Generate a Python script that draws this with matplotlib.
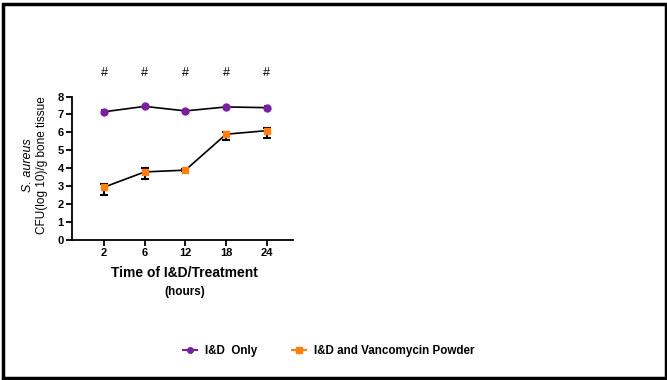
import numpy as np
import matplotlib.pyplot as plt
import matplotlib.patches as patches
from matplotlib.lines import Line2D
import matplotlib

matplotlib.rcParams['font.family'] = ['Liberation Sans', 'DejaVu Sans']

# data
hours = ['2', '6', '12', '18', '24']
id_only = [7.15, 7.45, 7.2, 7.42, 7.38]
id_only_err = [0.1, 0.05, 0.05, 0.05, 0.08]
id_vanco = [2.95, 3.8, 3.9, 5.9, 6.1]
id_vanco_lo = [0.45, 0.4, 0.05, 0.3, 0.4]
id_vanco_hi = [0.15, 0.2, 0.05, 0.15, 0.15]
sig = ['#', '#', '#', '#', '#']

purple = '#7b1fa2'
orange = '#ff7f0e'

fig = plt.figure(figsize=(6.67, 3.8), dpi=100)
ax = fig.add_axes([0.108, 0.368, 0.331, 0.378])
x = np.arange(len(hours))

ax.errorbar(x, id_vanco, yerr=[id_vanco_lo, id_vanco_hi], color='black', ecolor='black',
            elinewidth=1.5, capsize=3, capthick=1.5, lw=1.2, marker='s', ms=5,
            mfc=orange, mec=orange, zorder=3)
ax.errorbar(x, id_only, yerr=id_only_err, color='black', ecolor='black',
            elinewidth=1.2, capsize=2, capthick=1.2, lw=1.2, marker='o', ms=5,
            mfc=purple, mec=purple, zorder=3)

for i, s in enumerate(sig):
    ax.text(x[i], 9.3, s, ha='center', va='center', fontsize=9, clip_on=False)

ax.set_xlim(-0.785, 4.64)
ax.set_ylim(0, 8)
ax.set_xticks(x)
ax.set_xticklabels(hours)
ax.set_yticks(range(0, 9))
ax.spines['top'].set_visible(False)
ax.spines['right'].set_visible(False)
ax.spines['left'].set_linewidth(1.3)
ax.spines['bottom'].set_linewidth(1.3)
ax.tick_params(width=1.3, length=4, labelsize=8, pad=2)
for lab in ax.get_xticklabels() + ax.get_yticklabels():
    lab.set_fontweight('bold')

# y label in two lines, first line italic
fig.text(0.042, 0.565, 'S. aureus', rotation=90, ha='center', va='center',
         fontsize=9, style='italic')
fig.text(0.063, 0.565, 'CFU(log 10)/g bone tissue', rotation=90, ha='center', va='center',
         fontsize=8.5)

fig.text(0.277, 0.282, 'Time of I&D/Treatment', ha='center', va='center',
         fontsize=10, fontweight='bold')
fig.text(0.277, 0.232, '(hours)', ha='center', va='center', fontsize=8.5, fontweight='bold')

handles = [Line2D([], [], color=purple, marker='o', ms=4, lw=1.5),
           Line2D([], [], color=orange, marker='s', ms=4, lw=1.5)]
fig.legend(handles, ['I&D  Only', 'I&D and Vancomycin Powder'], loc='center',
           bbox_to_anchor=(0.493, 0.076), ncol=2, frameon=False,
           prop={'weight': 'bold', 'size': 8.4},
           handlelength=1.2, columnspacing=3.0, handletextpad=0.7)

fig.patches.append(patches.Rectangle((0.004, 0.004), 0.994, 0.985, transform=fig.transFigure,
                                     fill=False, edgecolor='black', linewidth=2.5))

plt.savefig('out.png', dpi=100)
